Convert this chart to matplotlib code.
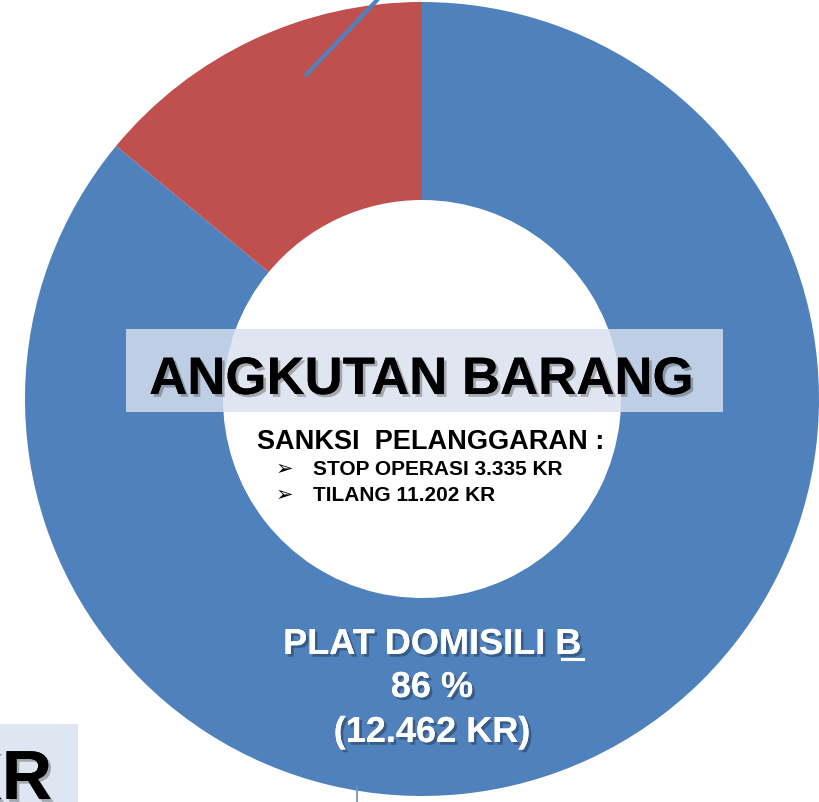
import matplotlib
matplotlib.use("Agg")
import matplotlib.pyplot as plt
import matplotlib.patheffects as pe
from matplotlib.patches import Rectangle

# Data
labels = ["PLAT DOMISILI B", "LUAR DOMISILI"]
shares = [86, 14]
colors = ["#4f81bd", "#c0504d"]
title = "ANGKUTAN BARANG"
sanksi_title = "SANKSI  PELANGGARAN :"
sanksi_items = ["STOP OPERASI 3.335 KR", "TILANG 11.202 KR"]
main_label = ["PLAT DOMISILI B", "86 %", "(12.462 KR)"]

W, H = 819, 803
fig = plt.figure(figsize=(W / 100, H / 100), dpi=100)
ax = fig.add_axes([0, 0, 1, 1])
ax.set_xlim(0, W)
ax.set_ylim(0, H)
ax.axis("off")

def py(y):
    # convert pixel row (top origin) to axis y
    return H - y

# donut
ax.pie(shares, colors=colors, startangle=90, counterclock=False,
       center=(422, py(400)), radius=397,
       wedgeprops=dict(width=198, edgecolor="none"))
ax.set_xlim(0, W)
ax.set_ylim(0, H)
ax.set_aspect("auto")

# leader line from the red slice and the stub at the bottom
ax.plot([305, 380], [py(77), py(-2)], color="#4f81bd", lw=3, solid_capstyle="butt")
ax.plot([357, 357], [py(787), py(805)], color="#6f8fb8", lw=1.2)

# translucent title band
ax.add_patch(Rectangle((126, py(413)), 597, 83, facecolor="#d8e1ef",
                       alpha=0.82, edgecolor="none", zorder=3))
shadow = [pe.withSimplePatchShadow(offset=(2, -2), alpha=0.35, shadow_rgbFace="#333333"),
          pe.Normal()]
ax.text(421, py(395), title, ha="center", va="baseline", fontsize=38,
        fontweight="bold", family="Liberation Sans", color="black",
        path_effects=shadow, zorder=4)

# sanctions list
ax.text(257, py(449), sanksi_title, ha="left", va="baseline", fontsize=19.5,
        fontweight="bold", family="Liberation Sans", color="black", zorder=4)
for i, item in enumerate(sanksi_items):
    yb = py(475 + i * 26)
    ax.text(276, yb, "\u27a2", ha="left", va="baseline", fontsize=15,
            family=["DejaVu Sans"], color="black", zorder=4)
    ax.text(313, yb, item, ha="left", va="baseline", fontsize=15,
            fontweight="bold", family="Liberation Sans", color="black", zorder=4)

# label inside the blue slice
wshadow = [pe.withSimplePatchShadow(offset=(2, -2), alpha=0.45, shadow_rgbFace="#1c2f48"),
           pe.Normal()]
baselines = [655, 698, 743]
for txt, yb in zip(main_label, baselines):
    ax.text(432, py(yb), txt, ha="center", va="baseline", fontsize=26,
            fontweight="bold", family="Liberation Sans", color="white",
            path_effects=wshadow, zorder=4)
ax.plot([562, 583], [py(660), py(660)], color="white", lw=2.2, zorder=4,
        path_effects=wshadow)

# cut-off box at the bottom left
ax.add_patch(Rectangle((-10, py(805)), 88, 80, facecolor="#dee6f1",
                       edgecolor="none", zorder=3))
ax.text(52, py(800), "KR", ha="right", va="baseline", fontsize=50,
        fontweight="bold", family="Liberation Sans", color="black",
        path_effects=shadow, zorder=4)

fig.savefig("out.png", dpi=100)
